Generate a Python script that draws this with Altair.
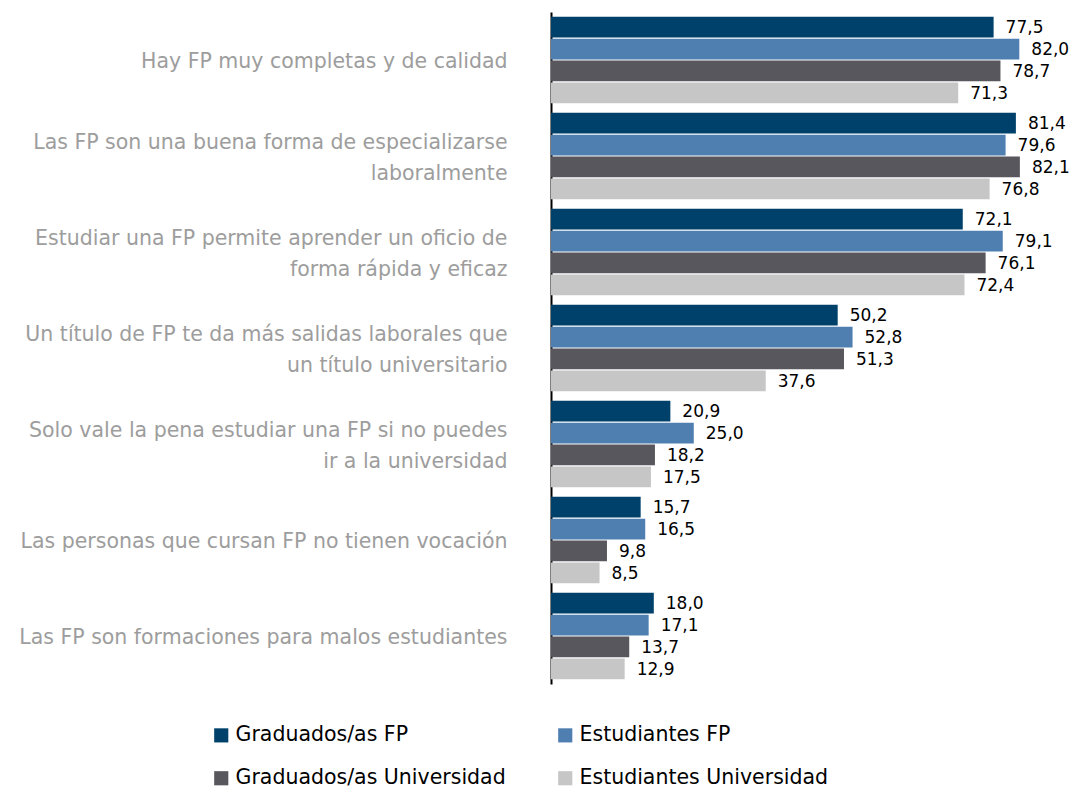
import altair as alt
import pandas as pd

categories = [
    "Hay FP muy completas y de calidad",
    "Las FP son una buena forma de especializarse|laboralmente",
    "Estudiar una FP permite aprender un oficio de|forma rápida y eficaz",
    "Un título de FP te da más salidas laborales que|un título universitario",
    "Solo vale la pena estudiar una FP si no puedes|ir a la universidad",
    "Las personas que cursan FP no tienen vocación",
    "Las FP son formaciones para malos estudiantes",
]
series = ["Graduados/as FP", "Estudiantes FP", "Graduados/as Universidad", "Estudiantes Universidad"]
grad_fp = [77.5, 81.4, 72.1, 50.2, 20.9, 15.7, 18.0]
est_fp = [82.0, 79.6, 79.1, 52.8, 25.0, 16.5, 17.1]
grad_uni = [78.7, 82.1, 76.1, 51.3, 18.2, 9.8, 13.7]
est_uni = [71.3, 76.8, 72.4, 37.6, 17.5, 8.5, 12.9]
colors = ["#00416b", "#4f7fb1", "#57575d", "#c6c6c6"]

rows = []
for s, vals in zip(series, [grad_fp, est_fp, grad_uni, est_uni]):
    for c, v in zip(categories, vals):
        rows.append({"cat": c, "serie": s, "value": v})
df = pd.DataFrame(rows)

FONT = "DejaVu Sans"

y_enc = alt.Y(
    "cat:N",
    sort=categories,
    scale=alt.Scale(paddingInner=0.1, paddingOuter=0.05),
    axis=alt.Axis(
        title=None,
        ticks=False,
        domain=True,
        domainColor="#000000",
        domainWidth=2,
        labelExpr="split(datum.label, '|')",
        labelFont=FONT,
        labelFontSize=20.5,
        labelColor="#9d9d9d",
        labelLineHeight=31,
        labelPadding=44,
        labelLimit=600,
        labelBaseline="middle",
        labelOffset={
            "condition": {"test": "indexof(datum.value, '|') >= 0", "value": -13.5},
            "value": 2,
        },
    ),
)
yoff = alt.YOffset("serie:N", sort=series, scale=alt.Scale(paddingInner=0.05))
x_enc = alt.X("value:Q", scale=alt.Scale(domain=[0, 90]), axis=None)

bars = alt.Chart(df).mark_bar().encode(
    x=x_enc,
    y=y_enc,
    yOffset=yoff,
    color=alt.Color(
        "serie:N",
        sort=series,
        scale=alt.Scale(domain=series, range=colors),
        legend=alt.Legend(
            title=None,
            orient="none",
            legendX=-340,
            legendY=713,
            direction="horizontal",
            columns=2,
            columnPadding=49,
            rowPadding=22,
            symbolType="square",
            symbolSize=200,
            symbolStrokeWidth=0,
            symbolOffset=0,
            labelFont=FONT,
            labelFontSize=20.5,
            labelColor="#000000",
            labelLimit=400,
            labelOffset=4,
        ),
    ),
)

texts = alt.Chart(df).transform_calculate(
    lbl="replace(format(datum.value, '.1f'), '.', ',')"
).mark_text(align="left", baseline="middle", dx=12, dy=1, font=FONT, fontSize=17, color="#000000").encode(
    x=x_enc,
    y=alt.Y("cat:N", sort=categories),
    yOffset=yoff,
    text="lbl:N",
)

chart = (
    alt.layer(bars, texts)
    .properties(
        width=514,
        height=672,
        autosize=alt.AutoSizeParams(type="none"),
        padding={"left": 543, "top": 4, "right": 4, "bottom": 110},
    )
    .configure_view(stroke=None)
)
chart.save("out.html", embed_options={"renderer": "svg", "actions": False})
